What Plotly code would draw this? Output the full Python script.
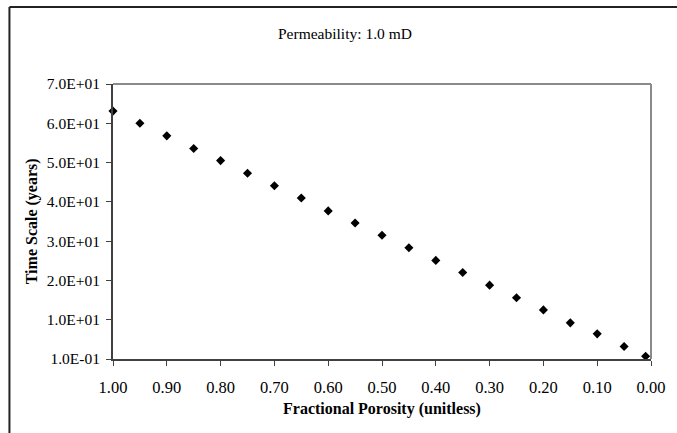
import plotly.graph_objects as go

porosity = [1.00, 0.95, 0.90, 0.85, 0.80, 0.75, 0.70, 0.65, 0.60, 0.55, 0.50,
            0.45, 0.40, 0.35, 0.30, 0.25, 0.20, 0.15, 0.10, 0.05, 0.01]
time_scale = [63.2, 60.1, 56.9, 53.7, 50.6, 47.4, 44.2, 41.1, 37.8, 34.7, 31.6,
              28.4, 25.2, 22.1, 18.9, 15.7, 12.6, 9.3, 6.5, 3.3, 0.8]

x_tick_vals = [1.0, 0.9, 0.8, 0.7, 0.6, 0.5, 0.4, 0.3, 0.2, 0.1, 0.0]
x_tick_text = ["1.00", "0.90", "0.80", "0.70", "0.60", "0.50", "0.40", "0.30", "0.20", "0.10", "0.00"]
y_tick_vals = [0.1, 10.1, 20.1, 30.1, 40.1, 50.1, 60.1, 70.1]
y_tick_text = ["1.0E-01", "1.0E+01", "2.0E+01", "3.0E+01", "4.0E+01", "5.0E+01", "6.0E+01", "7.0E+01"]

FONT = "Times New Roman, Liberation Serif, serif"

fig = go.Figure()
fig.add_trace(go.Scatter(
    x=porosity, y=time_scale, mode="markers",
    marker=dict(symbol="diamond", size=7, color="black"),
    showlegend=False, cliponaxis=False,
))

fig.update_layout(
    width=677, height=433,
    margin=dict(l=113, r=17, t=84, b=74),
    paper_bgcolor="white", plot_bgcolor="white",
    font=dict(family=FONT, size=16, color="black"),
    xaxis=dict(
        range=[1.0, 0.0], tickvals=x_tick_vals, ticktext=x_tick_text,
        showgrid=False, zeroline=False, showline=True, linecolor="#404040", linewidth=2,
        ticks="outside", ticklen=5, tickcolor="#404040", tickwidth=1,
        ticklabelstandoff=7, tickfont=dict(size=16.5),
    ),
    yaxis=dict(
        range=[0.1, 70.1], tickvals=y_tick_vals, ticktext=y_tick_text,
        showgrid=False, zeroline=False, showline=True, linecolor="#404040", linewidth=2,
        ticks="outside", ticklen=5, tickcolor="#404040", tickwidth=1,
        ticklabelstandoff=3, tickfont=dict(size=15.5),
    ),
    shapes=[
        # plot area top/right border (gray)
        dict(type="line", xref="paper", yref="paper", x0=0, x1=1, y0=1, y1=1,
             line=dict(color="#8a8a8a", width=2), layer="below"),
        dict(type="line", xref="paper", yref="paper", x0=1, x1=1, y0=0, y1=1,
             line=dict(color="#8a8a8a", width=2), layer="below"),
        # chart frame (left and top)
        dict(type="line", xref="paper", yref="paper", x0=-0.1925, x1=-0.1925, y0=-0.5, y1=1.28,
             line=dict(color="#222222", width=2)),
        dict(type="line", xref="paper", yref="paper", x0=-0.1925, x1=1.2, y0=1.28, y1=1.28,
             line=dict(color="#222222", width=2)),
    ],
    annotations=[
        dict(text="Permeability: 1.0 mD", xref="paper", yref="paper", x=0.431, y=1.185,
             showarrow=False, font=dict(family=FONT, size=15.5), xanchor="center", yanchor="middle"),
        dict(text="<b>Time Scale (years)</b>", xref="paper", yref="paper", x=-0.151, y=0.5,
             textangle=-90, showarrow=False, font=dict(family=FONT, size=16),
             xanchor="center", yanchor="middle"),
        dict(text="<b>Fractional Porosity (unitless)</b>", xref="paper", yref="paper", x=0.5,
             y=-0.18, showarrow=False, font=dict(family=FONT, size=16),
             xanchor="center", yanchor="middle"),
    ],
)

fig.write_html("out.html")
